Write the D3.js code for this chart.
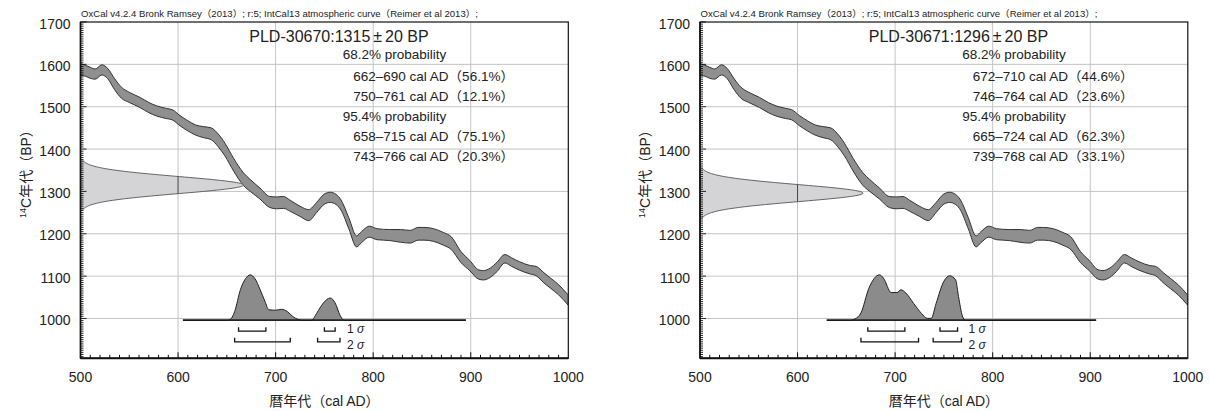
<!DOCTYPE html>
<html><head><meta charset="utf-8">
<script src="https://cdn.jsdelivr.net/npm/d3@7"></script>
<style>body{margin:0;background:#fff;} svg{display:block}</style>
</head><body>
<svg id="c" width="1210" height="411"></svg>
<script>
// ---- data ----
const calYears = [500,505,510,515,522,528,535,542,550,561,570,578,588,594,602,610,618,626,634,641,648,657,667,674,684,694,701,708,715,725,734,742,750,756,762,767,775,783,788,796,804,817,828,838,846,852,862,872,880,890,899,908,913,920,927,935,942,950,961,967,975,982,990,1000];
const calBP =    [1588,1585,1580,1577,1587,1578,1553,1533,1522,1510,1498,1490,1484,1481,1467,1455,1445,1440,1436,1421,1399,1363,1329,1314,1295,1275,1273,1274,1266,1253,1244,1262,1282,1286,1281,1268,1225,1182,1192,1205,1199,1197,1195,1193,1200,1200,1197,1188,1178,1145,1125,1104,1102,1108,1122,1141,1133,1124,1115,1112,1096,1083,1068,1043];
const calSigma = [14,13,13,12,12,12,13,13,12,12,12,12,12,12,12,12,12,13,14,15,15,15,15,14,13,13,14,14,13,12,13,12,12,12,12,12,13,13,13,13,13,13,15,15,15,15,15,15,15,13,12,11,11,11,11,10,10,10,10,11,12,12,12,12];

const sampleNames = ["PLD-30670", "PLD-30671"];
const sampleBP = [1315, 1296];
const sampleErr = [20, 20];
const range68Text = [["662–690 cal AD（56.1%）", "750–761 cal AD（12.1%）"], ["672–710 cal AD（44.6%）", "746–764 cal AD（23.6%）"]];
const range95Text = [["658–715 cal AD（75.1%）", "743–766 cal AD（20.3%）"], ["665–724 cal AD（62.3%）", "739–768 cal AD（33.1%）"]];
const sigma1Ranges = [[[662, 690], [750, 761]], [[672, 710], [746, 764]]];
const sigma2Ranges = [[[658, 715], [743, 766]], [[665, 724], [739, 768]]];

const probYearsA = [605,650,653,658,664,669,674,679,684,689,693,700,706,712,718,727,737,742,749,756,761,766,770,895];
const probA =      [0,0,0.01,0.19,0.68,0.91,1.0,0.91,0.68,0.42,0.23,0.22,0.24,0.19,0.075,0,0,0.15,0.38,0.49,0.38,0.11,0,0];
const probYearsB = [630,655,659,665,673,684,688,696,702,706,711,719,727,733,737,742,750,756,762,765,769,772,906];
const probB =      [0,0,0.03,0.16,0.7,1.0,0.93,0.61,0.61,0.67,0.6,0.37,0.15,0.04,0.04,0.37,0.86,0.98,0.89,0.52,0.09,0,0];

const xTicks = [500, 600, 700, 800, 900, 1000];
const yTicks = [1000, 1100, 1200, 1300, 1400, 1500, 1600, 1700];
const headerText = "OxCal v4.2.4 Bronk Ramsey（2013）; r:5; IntCal13 atmospheric curve（Reimer et al 2013）;";
const xTitle = "暦年代（cal AD）";
const prob68Label = "68.2% probability";
const prob95Label = "95.4% probability";

// ---- drawing ----
const FONT = "'Liberation Sans', Arial, Helvetica, 'Noto Sans CJK JP', sans-serif";
const svg = d3.select("#c");
const cal = calYears.map((y, i) => ({year: y, bp: calBP[i], s: calSigma[i]}));
const probs = [probYearsA.map((y, i) => ({year: y, p: probA[i]})), probYearsB.map((y, i) => ({year: y, p: probB[i]}))];

function panel(idx, left) {
  const g = svg.append("g");
  const plotW = 487.8, top = 22, bottom = 358.3;
  const x = d3.scaleLinear().domain([500, 1000]).range([left, left + plotW]);
  const y = d3.scaleLinear().domain([906, 1700]).range([bottom, top]);
  const clipId = "clip" + idx;
  g.append("clipPath").attr("id", clipId).append("rect")
    .attr("x", left).attr("y", top).attr("width", plotW).attr("height", bottom - top);

  // grid
  [600, 700, 800, 900].forEach(v => g.append("line").attr("x1", x(v)).attr("x2", x(v)).attr("y1", top).attr("y2", bottom)
    .attr("stroke", "#c4c4c4").attr("stroke-width", 1));
  [1000, 1100, 1200, 1300, 1400, 1500, 1600].forEach(v => g.append("line").attr("x1", left).attr("x2", left + plotW).attr("y1", y(v)).attr("y2", y(v))
    .attr("stroke", "#c4c4c4").attr("stroke-width", 1));

  // header
  g.append("text").attr("x", left + 0.5).attr("y", 17.3).attr("font-family", FONT).attr("font-size", 9.5)
    .attr("textLength", 397).attr("lengthAdjust", "spacingAndGlyphs").attr("fill", "#222").text(headerText);

  // calibration curve band
  const area = d3.area().curve(d3.curveMonotoneX)
    .x(d => x(d.year)).y0(d => y(d.bp - d.s)).y1(d => y(d.bp + d.s));
  g.append("path").datum(cal).attr("d", area).attr("clip-path", `url(#${clipId})`)
    .attr("fill", "#8f8f8f").attr("stroke", "#333").attr("stroke-width", 1);

  // measured gaussian on y-axis
  const mu = sampleBP[idx], sd = sampleErr[idx];
  const gpts = d3.range(mu - 3 * sd, mu + 3 * sd + 0.01, 1).map(b => ({bp: b, v: Math.exp(-((b - mu) ** 2) / (2 * sd * sd))}));
  const gw = d3.scaleLinear().domain([0, 1]).range([left, left + 163]);
  const garea = d3.area().y(d => y(d.bp)).x0(left).x1(d => gw(d.v));
  const gclip = "gclip" + idx;
  g.append("clipPath").attr("id", gclip).append("path").datum(gpts).attr("d", garea);
  g.append("path").datum(gpts).attr("d", garea).attr("fill", "#d4d4d6").attr("stroke", "none");
  g.append("path").datum(gpts).attr("d", d3.line().y(d => y(d.bp)).x(d => gw(d.v)))
    .attr("fill", "none").attr("stroke", "#555").attr("stroke-width", 0.9);
  g.append("line").attr("x1", x(600)).attr("x2", x(600)).attr("y1", top).attr("y2", bottom)
    .attr("clip-path", `url(#${gclip})`).attr("stroke", "#444").attr("stroke-width", 1);

  // calibrated probability distribution
  const baseBP = 996, peakBP = 1103;
  const py = d3.scaleLinear().domain([0, 1]).range([y(baseBP), y(peakBP)]);
  const parea = d3.area().curve(d3.curveMonotoneX).x(d => x(d.year)).y0(y(baseBP)).y1(d => py(d.p));
  g.append("path").datum(probs[idx]).attr("d", parea).attr("fill", "#8b8b8b").attr("stroke", "#222").attr("stroke-width", 1);
  const span = probs[idx];
  g.append("line").attr("x1", x(span[0].year)).attr("x2", x(span[span.length - 1].year))
    .attr("y1", y(baseBP)).attr("y2", y(baseBP)).attr("stroke", "#111").attr("stroke-width", 1.2);

  // sigma brackets
  const br = (ranges, bp) => ranges.forEach(([a, b]) => {
    const yy = y(bp);
    g.append("path").attr("d", `M${x(a)},${yy - 4}V${yy}H${x(b)}V${yy - 4}`)
      .attr("fill", "none").attr("stroke", "#111").attr("stroke-width", 1.3);
  });
  br(sigma1Ranges[idx], 970);
  br(sigma2Ranges[idx], 945);
  const maxEnd = d3.max(sigma2Ranges[idx], r => r[1]);
  [["1", 970, 1.5], ["2", 945, 7]].forEach(([n, bp, off]) => {
    const t = g.append("text").attr("x", x(maxEnd) + 7).attr("y", y(bp) + off).attr("font-family", FONT)
      .attr("font-size", 12).attr("fill", "#222");
    t.append("tspan").text(n + " ");
    t.append("tspan").attr("font-style", "italic").text("σ");
  });

  // border and axes
  g.append("rect").attr("x", left).attr("y", top).attr("width", plotW).attr("height", bottom - top)
    .attr("fill", "none").attr("stroke", "#111").attr("stroke-width", 1.2);
  g.append("line").attr("x1", left).attr("x2", left + plotW).attr("y1", bottom).attr("y2", bottom).attr("stroke", "#111").attr("stroke-width", 2);
  g.append("line").attr("x1", left).attr("x2", left).attr("y1", top).attr("y2", bottom).attr("stroke", "#111").attr("stroke-width", 1.6);
  for (let v = 910; v <= 1700; v += 5) {
    const L = v % 100 === 0 ? 6 : 3;
    g.append("line").attr("x1", left).attr("x2", left + L).attr("y1", y(v)).attr("y2", y(v)).attr("stroke", "#111").attr("stroke-width", 0.9);
  }
  for (let v = 510; v < 1000; v += 10) {
    const L = v % 100 === 0 ? 6 : 3.5;
    g.append("line").attr("x1", x(v)).attr("x2", x(v)).attr("y1", bottom).attr("y2", bottom - L).attr("stroke", "#111").attr("stroke-width", 1);
  }
  yTicks.forEach(v => g.append("text").attr("x", left - 10).attr("y", y(v) + 6.5).attr("text-anchor", "end")
    .attr("font-family", FONT).attr("font-size", 14).attr("fill", "#222").text(v));
  xTicks.forEach(v => g.append("text").attr("x", x(v)).attr("y", 381.5).attr("text-anchor", "middle")
    .attr("font-family", FONT).attr("font-size", 14).attr("fill", "#222").text(v));
  g.append("text").attr("x", left + plotW / 2).attr("y", 406).attr("text-anchor", "middle")
    .attr("font-family", FONT).attr("font-size", 14).attr("fill", "#222").text(xTitle);
  const yt = g.append("text").attr("transform", `translate(${left - 50},218) rotate(-90)`)
    .attr("font-family", FONT).attr("font-size", 14).attr("fill", "#222");
  yt.append("tspan").attr("font-size", 9).attr("dy", -5).text("14");
  yt.append("tspan").attr("dy", 5).text("C年代（BP）");

  // result text
  const tt = g.append("text").attr("x", left + 168.8).attr("y", 41.7).attr("font-family", FONT).attr("font-size", 16).attr("fill", "#222");
  tt.append("tspan").text(`${sampleNames[idx]}:${sampleBP[idx]}`);
  tt.append("tspan").attr("dx", 3).text("±");
  tt.append("tspan").attr("dx", 3).text(`${sampleErr[idx]} BP`);
  const lines = [[prob68Label, 262.2, 59.3], [range68Text[idx][0], 272.8, 80.7], [range68Text[idx][1], 272.8, 101],
                 [prob95Label, 262.2, 121], [range95Text[idx][0], 272.8, 141], [range95Text[idx][1], 272.8, 161]];
  lines.forEach(([s, dx, yy]) => g.append("text").attr("x", left + dx).attr("y", yy).attr("font-family", FONT)
    .attr("font-size", 13.5).attr("fill", "#222").text(s));
}

panel(0, 80.5);
panel(1, 700);
</script>
</body></html>
